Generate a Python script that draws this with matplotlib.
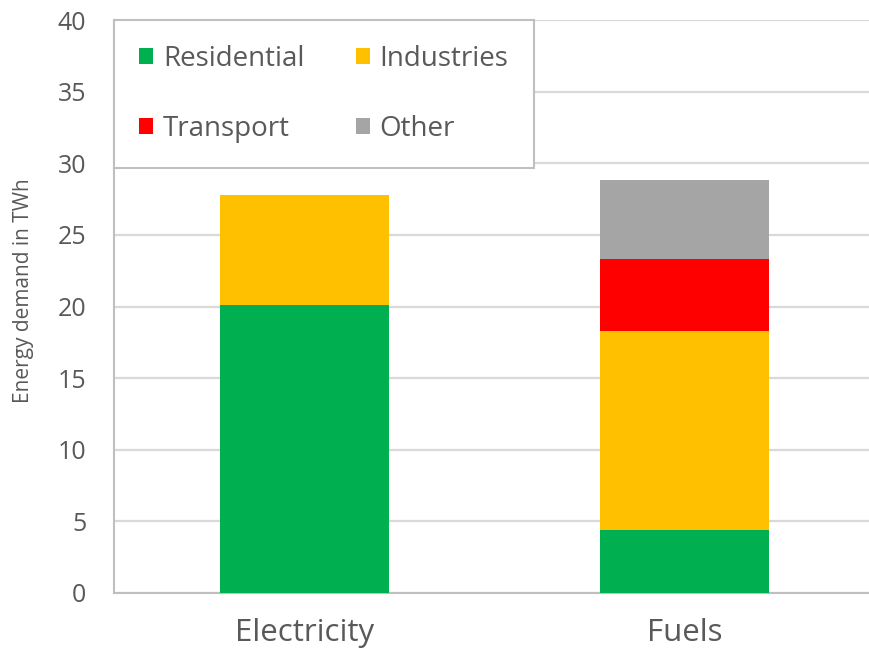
import matplotlib.pyplot as plt
import numpy as np

plt.rcParams['font.family'] = ['Open Sans', 'DejaVu Sans']

categories = ['Electricity', 'Fuels']
residential = [20.1, 4.4]
industries = [7.7, 13.9]
transport = [0.0, 5.0]
other = [0.0, 5.5]

colors = {'Residential': '#00B050', 'Industries': '#FFC000',
          'Transport': '#FF0000', 'Other': '#A5A5A5'}
txt = '#595959'

fig = plt.figure(figsize=(8.69, 6.56), dpi=100)
ax = fig.add_axes([114/869, 1-593/656, 1-114/869, (593-20)/656])

x = np.arange(len(categories))
w = 0.444
bottom = np.zeros(len(categories))
bars = {}
for name, vals in (('Residential', residential), ('Industries', industries),
                   ('Transport', transport), ('Other', other)):
    vals = np.array(vals)
    bars[name] = ax.bar(x, vals, w, bottom=bottom, color=colors[name],
                        label=name, zorder=3)
    bottom += vals

ax.set_xlim(-0.5, (869-114)/380.5 - 0.5)
ax.set_ylim(0, 40)
ax.set_yticks(range(0, 41, 5))
ax.set_xticks(x)
ax.set_xticklabels(categories, fontsize=22.5, color=txt)
ax.tick_params(axis='y', labelsize=18, labelcolor=txt, length=0, pad=20)
ax.tick_params(axis='x', length=0, pad=18)
ax.grid(axis='y', color='#d9d9d9', linewidth=1.6, zorder=0)
for s in ('top', 'right'):
    ax.spines[s].set_visible(False)
ax.spines['left'].set_color('#bfbfbf')
ax.spines['bottom'].set_color('#bfbfbf')
ax.spines['left'].set_linewidth(1.5)
ax.spines['bottom'].set_linewidth(1.5)
ax.set_ylabel('Energy demand in TWh', fontsize=15, color=txt)
ax.yaxis.set_label_coords(-0.106, 0.527)

order = ['Residential', 'Transport', 'Industries', 'Other']
leg = ax.legend([bars[n] for n in order], order, ncol=2, loc='upper left',
                bbox_to_anchor=(0, 1), borderaxespad=0, fontsize=20,
                frameon=True, fancybox=False, edgecolor='#bfbfbf',
                framealpha=1, handlelength=0.5, handleheight=0.5,
                handletextpad=0.36, labelspacing=1.5, columnspacing=1.85,
                borderpad=0.9, labelcolor=txt)
leg.get_frame().set_linewidth(1.5)
leg.set_zorder(5)

fig.savefig('out.png', dpi=100)
